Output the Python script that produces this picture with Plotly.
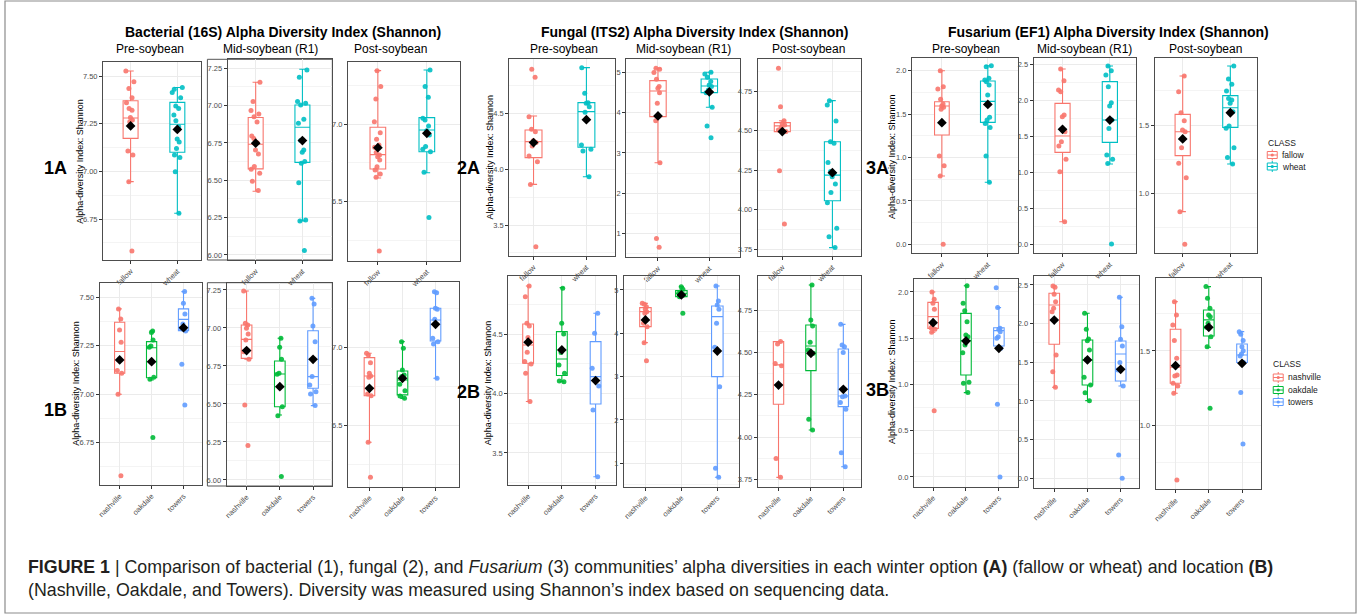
import plotly.graph_objects as go

W, H = 1357, 615

# ---------------- text ----------------
GROUP_TITLES = ["Bacterial (16S) Alpha Diversity Index (Shannon)",
                "Fungal (ITS2) Alpha Diversity Index (Shannon)",
                "Fusarium (EF1) Alpha Diversity Index (Shannon)"]
SEASONS = ["Pre-soybean", "Mid-soybean (R1)", "Post-soybean"]
ROW_LABELS = ["1A", "1B", "2A", "2B", "3A", "3B"]
Y_TITLE = "Alpha-diversity Index: Shannon"
LEGEND_TITLE = "CLASS"
WINTER = ["fallow", "wheat"]
LOCATION = ["nashville", "oakdale", "towers"]
WINTER_COLORS = ["#F8766D", "#00BFC4"]
LOCATION_COLORS = ["#F8766D", "#00BA38", "#619CFF"]
CAPTION_1 = ("<b>FIGURE 1</b> | Comparison of bacterial (1), fungal (2), and <i>Fusarium</i> (3) "
             "communities\u2019 alpha diversities in each winter option <b>(A)</b> (fallow or wheat) "
             "and location <b>(B)</b>")
CAPTION_2 = ("(Nashville, Oakdale, and Towers). Diversity was measured using Shannon\u2019s index "
             "based on sequencing data.")

# ---------------- data: points, box stats [q1, median, q3, lower, upper], means ----------------
# Bacterial (16S)
BAC_PRE_A_PTS = [[7.526, 7.47, 7.435, 7.386, 7.36, 7.33, 7.32, 7.283, 7.27, 7.26, 7.107, 7.086, 6.946, 6.582],
                 [7.44, 7.43, 7.413, 7.386, 7.343, 7.33, 7.295, 7.266, 7.234, 7.17, 7.154, 7.12, 7.086, 7.073, 6.998, 6.78]]
BAC_PRE_A_BOX = [[7.173, 7.28, 7.37, 6.946, 7.526], [7.10, 7.247, 7.362, 6.78, 7.44]]
BAC_PRE_A_MEAN = [7.238, 7.22]

BAC_MID_A_PTS = [[7.156, 7.027, 6.967, 6.944, 6.926, 6.89, 6.797, 6.78, 6.752, 6.703, 6.676, 6.592, 6.574, 6.547, 6.493, 6.431],
                 [7.239, 7.19, 7.027, 7.016, 7.004, 6.908, 6.882, 6.766, 6.703, 6.687, 6.625, 6.614, 6.484, 6.234, 6.228, 6.029]]
BAC_MID_A_BOX = [[6.576, 6.741, 6.92, 6.426, 7.156], [6.62, 6.855, 7.004, 6.228, 7.243]]
BAC_MID_A_MEAN = [6.748, 6.766]

BAC_POST_A_PTS = [[7.347, 7.244, 7.164, 7.017, 6.946, 6.903, 6.866, 6.851, 6.817, 6.802, 6.791, 6.769, 6.726, 6.705, 6.679, 6.657, 6.181],
                  [7.351, 7.244, 7.175, 7.039, 7.028, 6.989, 6.959, 6.931, 6.856, 6.838, 6.823, 6.69, 6.397]]
BAC_POST_A_BOX = [[6.711, 6.804, 6.981, 6.653, 7.347], [6.823, 6.963, 7.043, 6.687, 7.351]]
BAC_POST_A_MEAN = [6.849, 6.942]

BAC_PRE_B_PTS = [[7.44, 7.388, 7.331, 7.268, 7.177, 7.122, 7.108, 7.0, 6.58],
                 [7.326, 7.318, 7.28, 7.249, 7.242, 7.087, 7.077, 6.777],
                 [7.53, 7.469, 7.414, 7.362, 7.34, 7.326, 7.154, 6.944]]
BAC_PRE_B_BOX = [[7.108, 7.22, 7.371, 7.0, 7.44], [7.085, 7.24, 7.271, 7.073, 7.326], [7.328, 7.386, 7.44, 7.326, 7.529]]
BAC_PRE_B_MEAN = [7.177, 7.168, 7.343]

BAC_MID_B_PTS = [[7.243, 7.031, 7.02, 6.998, 6.961, 6.921, 6.844, 6.794, 6.493, 6.226],
                 [6.932, 6.873, 6.794, 6.702, 6.695, 6.482, 6.423, 6.022],
                 [7.195, 7.158, 7.013, 6.91, 6.68, 6.625, 6.581, 6.566, 6.489]]
BAC_MID_B_BOX = [[6.80, 6.925, 7.02, 6.794, 7.243], [6.482, 6.697, 6.783, 6.427, 6.932], [6.603, 6.68, 6.982, 6.489, 7.195]]
BAC_MID_B_MEAN = [6.851, 6.614, 6.794]

BAC_POST_B_PTS = [[6.962, 6.951, 6.902, 6.834, 6.817, 6.809, 6.702, 6.691, 6.394, 6.17],
                  [7.036, 6.994, 6.855, 6.823, 6.813, 6.764, 6.723, 6.689, 6.674],
                  [7.355, 7.349, 7.249, 7.243, 7.179, 7.057, 7.036, 7.021, 6.802]]
BAC_POST_B_BOX = [[6.691, 6.817, 6.934, 6.394, 6.962], [6.696, 6.791, 6.849, 6.674, 7.036], [7.04, 7.174, 7.249, 6.802, 7.355]]
BAC_POST_B_MEAN = [6.738, 6.802, 7.147]

# Fungal (ITS2)
FUN_PRE_A_PTS = [[4.898, 4.826, 4.473, 4.359, 4.338, 4.257, 4.24, 4.21, 4.12, 4.069, 3.865, 3.305],
                 [4.913, 4.683, 4.599, 4.593, 4.563, 4.512, 4.219, 4.18, 4.165, 3.934]]
FUN_PRE_A_BOX = [[4.105, 4.249, 4.353, 3.865, 4.479], [4.198, 4.518, 4.599, 3.934, 4.913]]
FUN_PRE_A_MEAN = [4.24, 4.446]

FUN_MID_A_PTS = [[5.099, 5.074, 4.992, 4.826, 4.645, 4.603, 4.496, 4.231, 3.802, 2.76, 0.884, 0.661],
                 [5.0, 4.959, 4.876, 4.769, 4.686, 4.645, 4.562, 4.496, 4.132, 3.669, 3.38]]
FUN_MID_A_BOX = [[3.901, 4.537, 4.793, 2.76, 5.099], [4.496, 4.661, 4.835, 4.132, 5.0]]
FUN_MID_A_MEAN = [3.917, 4.512]

FUN_POST_A_PTS = [[4.896, 4.653, 4.564, 4.547, 4.537, 4.522, 4.505, 4.495, 4.248, 3.91],
                  [4.691, 4.664, 4.562, 4.431, 4.421, 4.299, 4.242, 4.231, 4.21, 4.164, 4.109, 4.045, 3.883, 3.83, 3.761]]
FUN_POST_A_BOX = [[4.495, 4.531, 4.552, 4.49, 4.564], [4.058, 4.22, 4.431, 3.761, 4.691]]
FUN_POST_A_MEAN = [4.495, 4.235]

FUN_PRE_B_PTS = [[4.907, 4.817, 4.593, 4.57, 4.472, 4.438, 4.348, 4.27, 4.25, 4.171, 3.933],
                 [4.888, 4.593, 4.503, 4.346, 4.242, 4.171, 4.107, 4.101],
                 [4.677, 4.508, 4.213, 4.065, 3.862, 3.30]]
FUN_PRE_B_BOX = [[4.256, 4.41, 4.587, 3.933, 4.907], [4.152, 4.292, 4.522, 4.101, 4.893], [3.913, 4.143, 4.438, 3.30, 4.677]]
FUN_PRE_B_MEAN = [4.433, 4.368, 4.11]

FUN_MID_B_PTS = [[4.692, 4.669, 4.615, 4.554, 4.5, 4.462, 4.231, 4.154, 3.785, 3.369],
                 [5.077, 5.015, 4.962, 4.923, 4.885, 4.846, 4.462],
                 [5.092, 4.746, 4.654, 4.554, 4.231, 3.677, 2.769, 0.885, 0.677]]
FUN_MID_B_BOX = [[4.154, 4.5, 4.592, 3.785, 4.692], [4.846, 4.923, 4.985, 4.846, 5.077], [3.0, 4.385, 4.631, 0.677, 5.092]]
FUN_MID_B_MEAN = [4.308, 4.885, 3.592]

FUN_POST_B_PTS = [[4.565, 4.551, 4.436, 4.422, 3.874, 3.762],
                  [4.9, 4.693, 4.657, 4.561, 4.515, 4.496, 4.105, 4.042],
                  [4.667, 4.545, 4.535, 4.5, 4.243, 4.239, 4.204, 4.164, 3.908, 3.825]]
FUN_POST_B_BOX = [[4.194, 4.427, 4.565, 3.762, 4.565], [4.393, 4.539, 4.663, 4.042, 4.9], [4.18, 4.243, 4.521, 3.825, 4.667]]
FUN_POST_B_MEAN = [4.308, 4.496, 4.283]

# Fusarium (EF1)
FUS_PRE_A_PTS = [[2.0, 1.816, 1.789, 1.67, 1.616, 1.593, 1.578, 1.555, 1.017, 0.906, 0.787, 0.0],
                 [2.058, 2.046, 1.912, 1.893, 1.873, 1.835, 1.72, 1.463, 1.432, 1.393, 1.347, 1.017, 0.714]]
FUS_PRE_A_BOX = [[1.259, 1.593, 1.643, 0.787, 2.0], [1.405, 1.647, 1.881, 0.714, 2.058]]
FUS_PRE_A_MEAN = [1.401, 1.612]

FUS_MID_A_PTS = [[2.431, 2.269, 2.139, 2.116, 1.792, 1.769, 1.56, 1.421, 1.361, 1.176, 1.005, 0.31],
                 [2.472, 2.407, 2.347, 2.185, 1.963, 1.917, 1.722, 1.606, 1.236, 1.176, 1.12, 0.0]]
FUS_MID_A_BOX = [[1.273, 1.5, 1.954, 0.31, 2.431], [1.412, 1.722, 2.255, 1.111, 2.472]]
FUS_MID_A_MEAN = [1.593, 1.722]

FUS_POST_A_PTS = [[1.859, 1.744, 1.59, 1.532, 1.463, 1.451, 1.334, 1.22, 1.115, 0.866, 0.627],
                  [1.932, 1.837, 1.798, 1.749, 1.695, 1.683, 1.659, 1.598, 1.493, 1.476, 1.334, 1.263, 1.215]]
FUS_POST_A_BOX = [[1.276, 1.451, 1.578, 0.866, 1.859], [1.483, 1.627, 1.715, 1.215, 1.932]]
FUS_POST_A_MEAN = [1.398, 1.59]

FUS_PRE_B_PTS = [[2.0, 1.921, 1.877, 1.813, 1.643, 1.614, 1.596, 1.564, 0.717],
                 [2.068, 1.877, 1.798, 1.679, 1.535, 1.517, 1.427, 1.344, 1.023, 1.013, 0.912],
                 [2.047, 1.831, 1.607, 1.596, 1.571, 1.517, 1.499, 1.391, 0.786, 0.0]]
FUS_PRE_B_BOX = [[1.607, 1.733, 1.888, 1.564, 2.0], [1.103, 1.474, 1.769, 0.912, 2.068], [1.416, 1.582, 1.614, 1.416, 1.831]]
FUS_PRE_B_MEAN = [1.668, 1.47, 1.391]

FUS_MID_B_PTS = [[2.487, 2.47, 2.379, 2.284, 2.198, 2.155, 1.595, 1.379, 1.177],
                 [2.134, 1.927, 1.802, 1.78, 1.659, 1.539, 1.306, 1.207, 1.108, 1.004],
                 [2.341, 1.961, 1.797, 1.711, 1.496, 1.401, 1.194, 0.302, 0.0]]
FUS_MID_B_BOX = [[1.733, 2.241, 2.392, 1.177, 2.487], [1.207, 1.53, 1.789, 1.004, 2.134], [1.259, 1.608, 1.776, 1.194, 2.341]]
FUS_MID_B_MEAN = [2.047, 1.53, 1.41]

FUS_POST_B_PTS = [[1.832, 1.742, 1.675, 1.57, 1.451, 1.401, 1.339, 1.332, 1.283, 1.265, 1.215, 0.632],
                  [1.933, 1.854, 1.787, 1.742, 1.731, 1.686, 1.659, 1.596, 1.529, 1.114],
                  [1.63, 1.612, 1.57, 1.529, 1.502, 1.48, 1.466, 1.422, 1.22, 0.874]]
FUS_POST_B_BOX = [[1.283, 1.39, 1.646, 1.215, 1.832], [1.601, 1.709, 1.776, 1.525, 1.933], [1.422, 1.473, 1.547, 1.422, 1.63]]
FUS_POST_B_MEAN = [1.401, 1.659, 1.417]

PANELS = [
    (BAC_PRE_A_PTS, BAC_PRE_A_BOX, BAC_PRE_A_MEAN, "A"),
    (BAC_MID_A_PTS, BAC_MID_A_BOX, BAC_MID_A_MEAN, "A"),
    (BAC_POST_A_PTS, BAC_POST_A_BOX, BAC_POST_A_MEAN, "A"),
    (BAC_PRE_B_PTS, BAC_PRE_B_BOX, BAC_PRE_B_MEAN, "B"),
    (BAC_MID_B_PTS, BAC_MID_B_BOX, BAC_MID_B_MEAN, "B"),
    (BAC_POST_B_PTS, BAC_POST_B_BOX, BAC_POST_B_MEAN, "B"),
    (FUN_PRE_A_PTS, FUN_PRE_A_BOX, FUN_PRE_A_MEAN, "A"),
    (FUN_MID_A_PTS, FUN_MID_A_BOX, FUN_MID_A_MEAN, "A"),
    (FUN_POST_A_PTS, FUN_POST_A_BOX, FUN_POST_A_MEAN, "A"),
    (FUN_PRE_B_PTS, FUN_PRE_B_BOX, FUN_PRE_B_MEAN, "B"),
    (FUN_MID_B_PTS, FUN_MID_B_BOX, FUN_MID_B_MEAN, "B"),
    (FUN_POST_B_PTS, FUN_POST_B_BOX, FUN_POST_B_MEAN, "B"),
    (FUS_PRE_A_PTS, FUS_PRE_A_BOX, FUS_PRE_A_MEAN, "A"),
    (FUS_MID_A_PTS, FUS_MID_A_BOX, FUS_MID_A_MEAN, "A"),
    (FUS_POST_A_PTS, FUS_POST_A_BOX, FUS_POST_A_MEAN, "A"),
    (FUS_PRE_B_PTS, FUS_PRE_B_BOX, FUS_PRE_B_MEAN, "B"),
    (FUS_MID_B_PTS, FUS_MID_B_BOX, FUS_MID_B_MEAN, "B"),
    (FUS_POST_B_PTS, FUS_POST_B_BOX, FUS_POST_B_MEAN, "B"),
]

# ---------------- layout geometry (pixels): left, right, top, bottom, xrange, yrange, tick0, dtick, fmt ----------------
GEOM = [
    (99.3, 197.3, 62.3, 260.0, [-0.59, 1.50], [6.535, 7.572], 6.75, 0.25, ".2f"),
    (224.3, 329.3, 59.3, 260.0, [-0.60, 1.64], [5.966, 7.31], 6.0, 0.25, ".2f"),
    (345.0, 457.0, 61.7, 260.7, [-0.61, 1.67], [6.118, 7.405], 6.5, 0.5, ".1f"),
    (96.0, 198.3, 282.7, 485.0, [-0.625, 2.57], [6.532, 7.575], 6.75, 0.25, ".2f"),
    (223.3, 329.3, 282.7, 486.0, [-0.60, 2.58], [5.96, 7.298], 6.0, 0.25, ".2f"),
    (345.0, 456.0, 282.3, 486.7, [-0.65, 2.70], [6.11, 7.415], 6.5, 0.5, ".1f"),
    (506.7, 613.3, 59.3, 256.0, [-0.46, 1.55], [3.222, 4.988], 3.5, 0.5, ".1f"),
    (624.0, 738.3, 59.3, 257.3, [-0.62, 1.60], [0.415, 5.322], 1.0, 1.0, "d"),
    (756.0, 860.0, 59.3, 256.0, [-0.49, 1.58], [3.708, 4.9525], 3.75, 0.25, ".2f"),
    (505.7, 614.0, 276.0, 485.0, [-0.59, 2.61], [3.23, 4.991], 3.5, 0.5, ".1f"),
    (621.7, 736.7, 276.0, 486.7, [-0.60, 2.59], [0.46, 5.323], 1.0, 1.0, "d"),
    (756.0, 860.0, 276.0, 487.3, [-0.64, 2.56], [3.703, 4.953], 3.75, 0.25, ".2f"),
    (910.7, 1016.7, 57.7, 253.3, [-0.65, 1.65], [-0.104, 2.15], 0.0, 0.5, ".1f"),
    (1032.7, 1135.7, 57.7, 253.3, [-0.61, 1.56], [-0.129, 2.588], 0.0, 0.5, ".1f"),
    (1154.0, 1256.7, 57.7, 253.3, [-0.59, 1.56], [0.561, 1.993], 1.0, 0.5, ".1f"),
    (912.7, 1017.3, 279.3, 486.7, [-0.58, 2.59], [-0.105, 2.137], 0.0, 0.5, ".1f"),
    (1032.7, 1138.3, 276.0, 488.3, [-0.62, 2.55], [-0.129, 2.616], 0.0, 0.5, ".1f"),
    (1155.0, 1260.7, 278.3, 489.3, [-0.60, 2.57], [0.569, 1.989], 1.0, 0.5, ".1f"),
]

FONT = "Arial, Liberation Sans, Helvetica, sans-serif"
GRID = "#EBEBEB"
MINOR = "#F4F4F4"
BORDER = "#4D4D4D"
BOX_W = 0.32

fig = go.Figure()
for k, (pts, box, mean, row) in enumerate(PANELS):
    idx = k + 1
    xa = "x" if idx == 1 else f"x{idx}"
    ya = "y" if idx == 1 else f"y{idx}"
    names = WINTER if row == "A" else LOCATION
    colors = WINTER_COLORS if row == "A" else LOCATION_COLORS
    for j, name in enumerate(names):
        q1, med, q3, lo, hi = box[j]
        fig.add_trace(go.Box(
            x=[j], q1=[q1], median=[med], q3=[q3], lowerfence=[lo], upperfence=[hi],
            name=name, showlegend=False,
            width=BOX_W, whiskerwidth=0.42, fillcolor="white",
            line=dict(color=colors[j], width=1.1), boxpoints=False,
            xaxis=xa, yaxis=ya, hoverinfo="skip"))
    for j, name in enumerate(names):
        fig.add_trace(go.Box(
            x=[j] * len(pts[j]), y=pts[j], name=name, showlegend=False,
            width=BOX_W, boxpoints="all", jitter=0.75, pointpos=0,
            fillcolor="rgba(0,0,0,0)", line=dict(color="rgba(0,0,0,0)", width=0),
            marker=dict(color=colors[j], size=5, opacity=0.9),
            hoveron="points", xaxis=xa, yaxis=ya))
    fig.add_trace(go.Scatter(
        x=list(range(len(names))), y=mean, mode="markers", showlegend=False,
        marker=dict(symbol="diamond", size=7.5, color="black"),
        xaxis=xa, yaxis=ya))

layout = {}
shapes = []
for k, (L, R, T, B, xr, yr, t0, dt, fmt) in enumerate(GEOM):
    idx = k + 1
    row = PANELS[k][3]
    names = WINTER if row == "A" else LOCATION
    xkey = "xaxis" if idx == 1 else f"xaxis{idx}"
    ykey = "yaxis" if idx == 1 else f"yaxis{idx}"
    xa = "x" if idx == 1 else f"x{idx}"
    ya = "y" if idx == 1 else f"y{idx}"
    layout[xkey] = dict(
        domain=[L / W, R / W], range=xr, anchor=ya,
        tickmode="array", tickvals=list(range(len(names))), ticktext=names,
        tickangle=-45, showgrid=True, gridcolor=GRID, gridwidth=0.8, zeroline=False,
        showline=True, mirror=True, linecolor=BORDER, linewidth=1,
        ticks="outside", ticklen=3, tickcolor="#333333",
        tickfont=dict(size=7.5, color="#4D4D4D", family=FONT), fixedrange=True)
    layout[ykey] = dict(
        domain=[1 - B / H, 1 - T / H], range=yr, anchor=xa,
        tickmode="linear", tick0=t0, dtick=dt, tickformat=fmt,
        showgrid=True, gridcolor=GRID, gridwidth=0.8, zeroline=False,
        minor=dict(tick0=t0, dtick=dt / 2, showgrid=True, gridcolor=MINOR, gridwidth=0.5, ticklen=0),
        showline=True, mirror=True, linecolor=BORDER, linewidth=1,
        ticks="outside", ticklen=3, tickcolor="#333333",
        tickfont=dict(size=7.5, color="#4D4D4D", family=FONT), fixedrange=True)

def px_rect(L, R, T, B, color, width=1, fill="rgba(0,0,0,0)", layer="above"):
    shapes.append(dict(type="rect", xref="paper", yref="paper",
                       x0=L / W, x1=R / W, y0=1 - B / H, y1=1 - T / H,
                       line=dict(color=color, width=width), fillcolor=fill, layer=layer))

def px_line(x0, y0, x1, y1, color, width=1):
    shapes.append(dict(type="line", xref="paper", yref="paper",
                       x0=x0 / W, x1=x1 / W, y0=1 - y0 / H, y1=1 - y1 / H,
                       line=dict(color=color, width=width)))

# extra image frames around the two bacterial mid-season panels
px_rect(204.0, 329.3, 59.3, 260.0, "#555555", layer="below")
px_rect(204.0, 329.3, 282.7, 486.0, "#555555", layer="below")
# outer figure border
px_rect(1, W - 1, 1, 613, "#8C8C8C", width=1.2)

ann = []
def add_text(text, xpx, ypx, size, bold=False, angle=0, anchor="center", color="black"):
    ann.append(dict(text=f"<b>{text}</b>" if bold else text, x=xpx / W, y=1 - ypx / H,
                    xref="paper", yref="paper", showarrow=False, xanchor=anchor, yanchor="middle",
                    textangle=angle, font=dict(size=size, color=color, family=FONT)))

for t, xc in zip(GROUP_TITLES, [280, 693, 1108]):
    add_text(t, xc, 31.5, 14, bold=True)
for xs in [(146, 267, 388), (561.7, 682, 806.7), (965, 1084, 1205)]:
    for s, xc in zip(SEASONS, xs):
        add_text(s, xc, 49.5, 12)
for lab, (xc, yc) in zip(ROW_LABELS, [(52, 168), (52, 410), (466, 168), (466, 392), (876, 168), (876, 390)]):
    add_text(lab, xc, yc, 18, bold=True)
for (xc, yc) in [(76, 161), (72, 383), (487, 157), (485.7, 383), (890.7, 157), (890.7, 382)]:
    add_text(Y_TITLE, xc, yc, 9, angle=-90)
add_text(CAPTION_1, 22, 567, 17.8, anchor="left", color="#231F20")
add_text(CAPTION_2, 22, 590, 17.8, anchor="left", color="#231F20")

# manual ggplot-style legends (key glyph: small box with whisker, median and dot)
def draw_legend(title_x, title_y, key_x, text_x, ys, names, colors):
    add_text(LEGEND_TITLE, title_x, title_y, 8.5, anchor="left", color="#1A1A1A")
    for y, name, c in zip(ys, names, colors):
        px_line(key_x, y - 5.5, key_x, y + 5.5, c, 1)
        px_rect(key_x - 5, key_x + 5, y - 3.5, y + 3.5, c, 1, fill="white")
        px_line(key_x - 5, y, key_x + 5, y, c, 1)
        shapes.append(dict(type="circle", xref="paper", yref="paper",
                           x0=(key_x - 1.6) / W, x1=(key_x + 1.6) / W,
                           y0=1 - (y + 1.6) / H, y1=1 - (y - 1.6) / H,
                           line=dict(width=0), fillcolor=c))
        add_text(name, text_x, y, 8.5, anchor="left", color="#1A1A1A")

draw_legend(1266, 143, 1272, 1280, [155, 166.5], WINTER, WINTER_COLORS)
draw_legend(1271, 364, 1278, 1286, [377.5, 390, 402], LOCATION, LOCATION_COLORS)

fig.update_layout(
    width=W, height=H, autosize=False,
    margin=dict(l=0, r=0, t=0, b=0),
    paper_bgcolor="white", plot_bgcolor="white",
    boxmode="overlay", showlegend=False,
    shapes=shapes, annotations=ann,
    font=dict(family=FONT),
    **layout)

fig.write_html("out.html", config={"displayModeBar": False},
               post_script="document.body.style.margin='0';")
